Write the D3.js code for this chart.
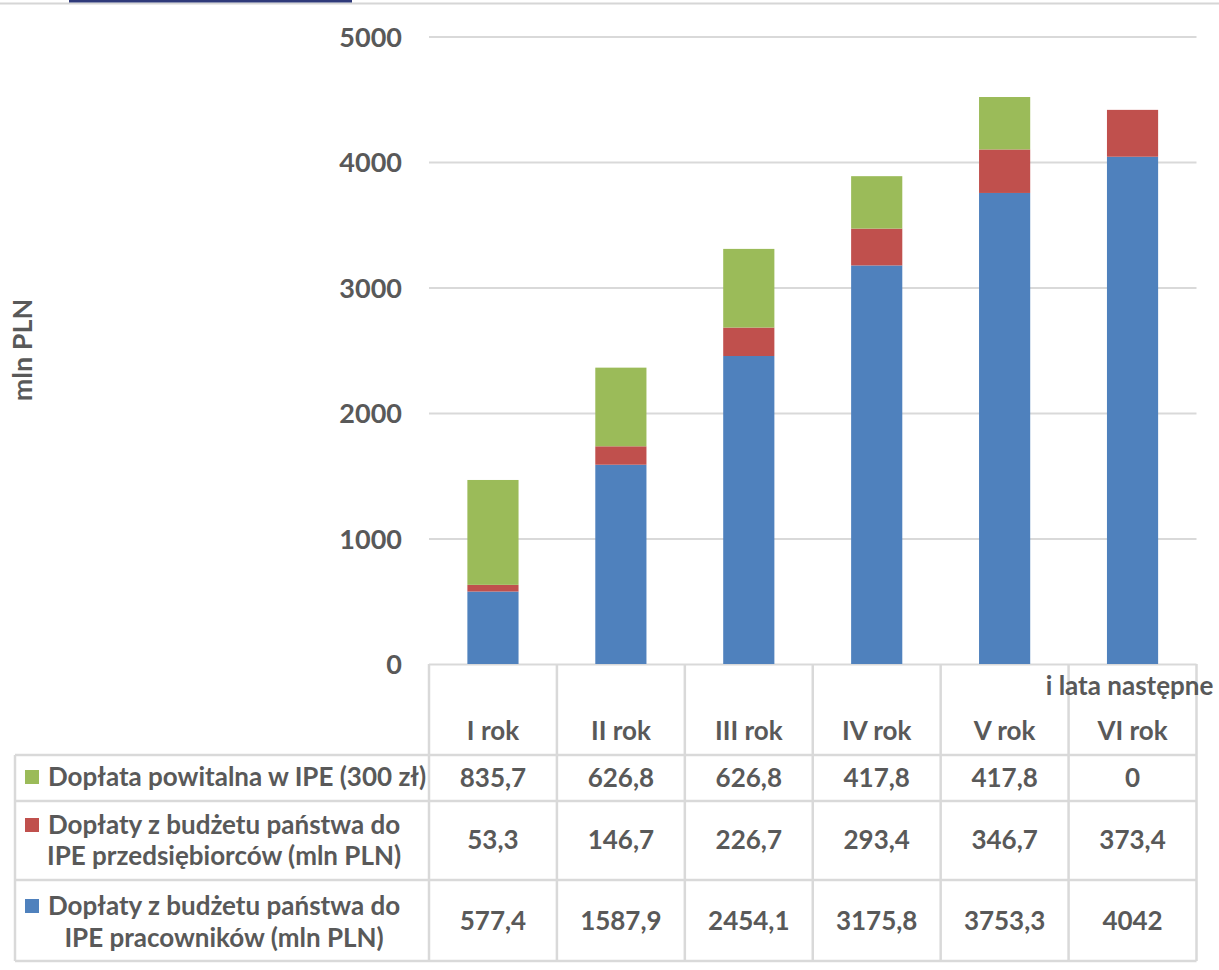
<!DOCTYPE html>
<html>
<head>
<meta charset="utf-8">
<script src="https://cdn.jsdelivr.net/npm/d3@7"></script>
<style>
  body { margin: 0; background: #fff; }
  text { font-family: Lato, "Open Sans", sans-serif; font-weight: bold; fill: #595959; }
</style>
</head>
<body>
<div class="canvas"></div>
<script>
// chart data
const years = ['I rok', 'II rok', 'III rok', 'IV rok', 'V rok', 'VI rok'];
const pracownicy = [577.4, 1587.9, 2454.1, 3175.8, 3753.3, 4042];
const przedsiebiorcy = [53.3, 146.7, 226.7, 293.4, 346.7, 373.4];
const powitalna = [835.7, 626.8, 626.8, 417.8, 417.8, 0];
const yTicks = [0, 1000, 2000, 3000, 4000, 5000];

const fmt = v => String(v).replace('.', ',');

// series, bottom to top of the stack
const series = [
  { key: 'prac', values: pracownicy, color: '#4f81bd',
    label: ['Dopłaty z budżetu państwa do', 'IPE pracowników (mln PLN)'] },
  { key: 'przed', values: przedsiebiorcy, color: '#c0504d',
    label: ['Dopłaty z budżetu państwa do', 'IPE przedsiębiorców (mln PLN)'] },
  { key: 'pow', values: powitalna, color: '#9bbb59',
    label: ['Dopłata powitalna w IPE (300 zł)'] }
];

const dims = { width: 1219, height: 970 };
const plot = { left: 429, right: 1196.5, top: 36.5, bottom: 664 };
const tableFont = '26px';

const svg = d3.select('.canvas')
  .append('svg')
  .attr('width', dims.width)
  .attr('height', dims.height);

// strip at the top of the screenshot
svg.append('rect').attr('x', 0).attr('y', 2.5).attr('width', dims.width).attr('height', 2).attr('fill', '#d6d6d6');
svg.append('rect').attr('x', 69).attr('y', 0).attr('width', 283).attr('height', 2.5).attr('fill', '#2f3a7a');

const x = d3.scaleBand()
  .domain(years)
  .range([plot.left, plot.right])
  .paddingInner(0.6)
  .paddingOuter(0.3);

const y = d3.scaleLinear()
  .domain([0, 5000])
  .range([plot.bottom, plot.top]);

// gridlines + tick labels
const yAxis = svg.append('g')
  .attr('transform', `translate(${plot.left}, 0)`)
  .call(d3.axisLeft(y)
    .tickValues(yTicks)
    .tickSizeInner(-(plot.right - plot.left))
    .tickSizeOuter(0)
    .tickPadding(27)
    .tickFormat(d3.format('d')));

yAxis.select('.domain').remove();
yAxis.selectAll('line').attr('stroke', '#d9d9d9').attr('stroke-width', 2);
yAxis.selectAll('text')
  .style('font-size', '27px')
  .attr('fill', '#595959')
  .attr('dy', '0.36em');

// axis title
svg.append('text')
  .attr('transform', 'translate(32, 350) rotate(-90)')
  .attr('text-anchor', 'middle')
  .style('font-size', '27px')
  .text('mln PLN');

// stacked bars
const rows = years.map((yr, i) => {
  const r = { year: yr };
  series.forEach(s => r[s.key] = s.values[i]);
  return r;
});

const stack = d3.stack().keys(series.map(s => s.key));
const layers = stack(rows);

svg.append('g')
  .selectAll('g')
  .data(layers)
  .join('g')
    .attr('fill', (d, i) => series[i].color)
  .selectAll('rect')
  .data(d => d)
  .join('rect')
    .attr('x', d => x(d.data.year))
    .attr('width', x.bandwidth())
    .attr('y', d => y(d[1]))
    .attr('height', d => y(d[0]) - y(d[1]));

// data table
const step = x.step();
const colEdge = i => plot.left + i * step;
const table = svg.append('g');
const lineCol = '#d9d9d9';

const rowBottom = 961;
const tableLeft = 15;

// horizontal lines
[755, 801, 880, 961].forEach(yy => {
  table.append('line')
    .attr('x1', tableLeft).attr('x2', plot.right)
    .attr('y1', yy).attr('y2', yy)
    .attr('stroke', lineCol).attr('stroke-width', 2.5);
});
// vertical lines
table.append('line')
  .attr('x1', tableLeft).attr('x2', tableLeft)
  .attr('y1', 755).attr('y2', rowBottom)
  .attr('stroke', lineCol).attr('stroke-width', 2.5);
d3.range(years.length + 1).forEach(i => {
  table.append('line')
    .attr('x1', colEdge(i)).attr('x2', colEdge(i))
    .attr('y1', plot.bottom).attr('y2', rowBottom)
    .attr('stroke', lineCol).attr('stroke-width', 2.5);
});

// header
table.selectAll('.hdr')
  .data(years)
  .join('text')
    .attr('class', 'hdr')
    .attr('x', d => x(d) + x.bandwidth() / 2)
    .attr('y', 740)
    .attr('text-anchor', 'middle')
    .style('font-size', tableFont)
    .text(d => d);

table.append('text')
  .attr('x', x('VI rok') + x.bandwidth() / 2 - 3)
  .attr('y', 695)
  .attr('text-anchor', 'middle')
  .style('font-size', '26px')
  .text('i lata następne');

// table rows: top row is the top series
const tableRows = series.slice().reverse();
const valueBase = [787, 849, 930];
const labelBase = [[786], [834, 865], [915, 947]];

tableRows.forEach((s, r) => {
  const g = table.append('g');

  g.append('rect')
    .attr('x', 25)
    .attr('y', labelBase[r][0] - 16)
    .attr('width', 14)
    .attr('height', 14)
    .attr('fill', s.color);

  const first = g.append('text')
    .attr('x', 48)
    .attr('y', labelBase[r][0])
    .style('font-size', tableFont)
    .text(s.label[0]);
  const w = first.node().getComputedTextLength();

  if (s.label[1]) {
    g.append('text')
      .attr('x', 48 + w / 2)
      .attr('y', labelBase[r][1])
      .attr('text-anchor', 'middle')
      .style('font-size', tableFont)
      .text(s.label[1]);
  }

  g.selectAll('.val')
    .data(s.values)
    .join('text')
      .attr('class', 'val')
      .attr('x', (d, i) => x(years[i]) + x.bandwidth() / 2)
      .attr('y', valueBase[r])
      .attr('text-anchor', 'middle')
      .style('font-size', tableFont)
      .text(d => fmt(d));
});
</script>
</body>
</html>
